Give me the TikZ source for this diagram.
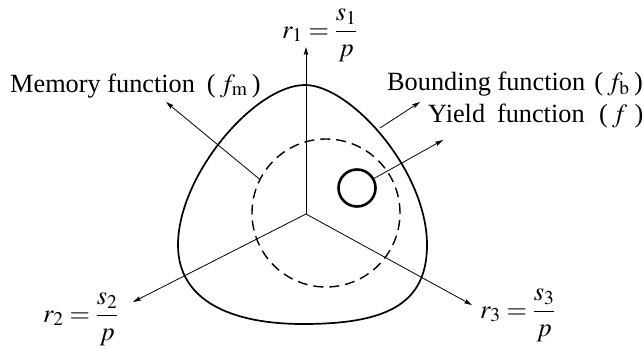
\documentclass[tikz,border=0pt]{standalone}
\usepackage{amsmath}
\usepackage{mathptmx}
\usepackage{fontspec}
\setmainfont{Liberation Serif}
\usetikzlibrary{arrows.meta}

\begin{document}
\begin{tikzpicture}[x=1pt, y=-1pt,
    lbl/.style={font=\fontsize{26.3}{31}\selectfont, inner sep=0pt, anchor=base west},
    axis/.style={line width=0.8pt, -{Stealth[length=8pt,width=4.5pt,inset=1.5pt]}},
    pointer/.style={line width=0.8pt, -{Stealth[length=8pt,width=4.5pt,inset=1.5pt]}}]
  \useasboundingbox (0,0) rectangle (644,348);
  \coordinate (o) at (306,214);
  \coordinate (r1tip) at (306,47);
  \coordinate (r2tip) at (133,302);
  \coordinate (r3tip) at (472,305);
  \draw[axis] (o) -- (r1tip);
  \draw[axis] (o) -- (r2tip);
  \draw[axis] (o) -- (r3tip);
  \node[lbl] (r1lab) at (282,38) {$r_1=\dfrac{s_1}{p}$};
  \node[lbl] (r2lab) at (43,322) {$r_2=\dfrac{s_2}{p}$};
  \node[lbl] (r3lab) at (480,318) {$r_3=\dfrac{s_3}{p}$};
  \draw[line width=1.7pt] (305,85) .. controls (350,85) and (427,170) .. (427,245)
    .. controls (427,305) and (385,324) .. (303,324)
    .. controls (230,324) and (178,300) .. (178,245)
    .. controls (178,175) and (255,85) .. cycle;
  \node[draw, circle, dashed, dash pattern=on 10pt off 6pt, line width=1.4pt,
        minimum size=148pt, inner sep=0pt] (mem) at (326,213) {};
  \node[draw, circle, line width=2.6pt, minimum size=37pt, inner sep=0pt] (yld) at (357,188) {};
  \coordinate (bnd) at (380,128);
  \coordinate (memtip) at (166,102);
  \coordinate (bndtip) at (420,102);
  \coordinate (yldtip) at (443,140);
  \draw[pointer] (mem.153) -- (memtip);
  \draw[pointer] (bnd) -- (bndtip);
  \draw[pointer] (yld) -- (yldtip);
  \node[lbl] (memlab) at (10,92) {Memory function\hspace{0.45em}(\,$f_{\mathrm{m}}$\,)};
  \node[lbl] (bndlab) at (387,90) {Bounding function\hspace{0.35em}(\,$f_{\mathrm{b}}$\,)};
  \node[lbl] (yldlab) at (428,122) {Yield\hspace{0.45em}function\hspace{0.55em}(\,$f$\;)};
\end{tikzpicture}
\end{document}
